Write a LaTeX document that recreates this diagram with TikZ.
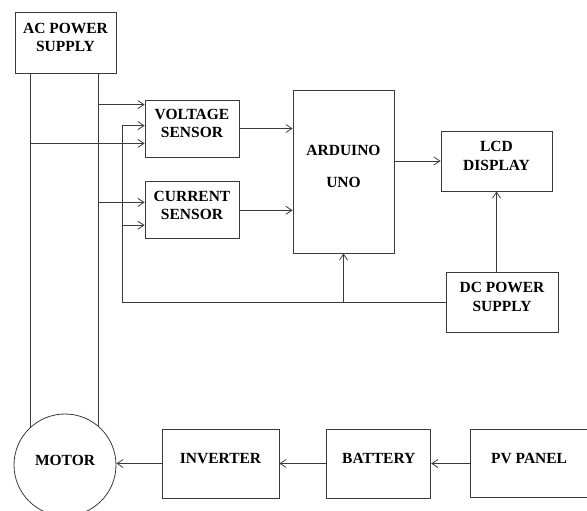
\documentclass[tikz,border=0pt]{standalone}
\usepackage{fontspec}
\setmainfont{Liberation Serif}
\usepackage{tikz}
\usetikzlibrary{positioning,arrows.meta,calc}
\definecolor{lineGray}{HTML}{3A3A3A}
\tikzset{
  blk/.style={draw=lineGray,line width=0.8pt,inner sep=2pt,align=center,
    font=\bfseries\fontsize{15.5}{18.5}\selectfont,text depth=10pt},
  motorc/.style={circle,draw=lineGray,line width=0.8pt,minimum size=102pt,inner sep=0pt,
    font=\bfseries\fontsize{15.5}{18.5}\selectfont,text depth=10pt},
  wire/.style={line width=0.8pt,draw=lineGray},
  arr/.style={wire,-{Straight Barb[length=6pt,width=8pt]}}
}
\begin{document}
\begin{tikzpicture}[x=1pt,y=-1pt,node distance=24pt]
  \useasboundingbox (0,0) rectangle (587,511);
  \node[blk, minimum width=101pt, minimum height=61pt] (ac) at (65.5,42.5) {AC POWER\\SUPPLY};
  \node[blk, minimum width=94pt, minimum height=57pt] (volt) at (192,128.5) {VOLTAGE\\SENSOR};
  \node[blk, minimum width=94pt, minimum height=57pt, below=24pt of volt] (curr) {CURRENT\\SENSOR};
  \node[blk, minimum width=101pt, minimum height=163pt] (ard) at (343.5,171.5) {ARDUINO\\[13pt]UNO};
  \node[blk, minimum width=111pt, minimum height=60pt] (lcd) at (496.5,161) {LCD\\DISPLAY};
  \node[blk, minimum width=112pt, minimum height=60pt] (dc) at (502,302) {DC POWER\\SUPPLY};
  \node[motorc] (motor) at (65,465) {MOTOR};
  \node[blk, minimum width=117pt, minimum height=69pt] (inv) at (220.5,463.5) {INVERTER};
  \node[blk, minimum width=104pt, minimum height=69pt, right=47pt of inv] (bat) {BATTERY};
  \node[blk, minimum width=117pt, minimum height=68pt, right=39pt of bat] (pv) {PV PANEL};
  \coordinate (v1) at ([yshift=-5pt]volt.north west);
  \coordinate (v2) at ([yshift=-26pt]volt.north west);
  \coordinate (v3) at ([yshift=14pt]volt.south west);
  \coordinate (c1) at ([yshift=-21pt]curr.north west);
  \coordinate (c2) at ([yshift=14pt]curr.south west);
  \coordinate (rail) at ([xshift=-22pt]v2);
  \draw[wire] (motor.133) -- (motor.133 |- ac.south);
  \draw[wire] (motor.50) -- (motor.50 |- ac.south);
  \draw[arr] (motor.50 |- v1) -- (v1);
  \draw[arr] (motor.133 |- v3) -- (v3);
  \draw[arr] (motor.50 |- c1) -- (c1);
  \draw[arr] (dc.west) -| (rail) -- (v2);
  \draw[arr] (rail |- c2) -- (c2);
  \draw[arr] (ard.south |- dc.west) -- (ard.south);
  \draw[arr] (volt.east) -- (volt.east -| ard.west);
  \draw[arr] (curr.east) -- (curr.east -| ard.west);
  \draw[arr] (ard.east |- lcd.west) -- (lcd.west);
  \draw[arr] (dc.north -| lcd.south) -- (lcd.south);
  \draw[arr] (inv.west) -- (inv.west -| motor.east);
  \draw[arr] (bat.west) -- (inv.east);
  \draw[arr] (pv.west |- bat.east) -- (bat.east);
\end{tikzpicture}
\end{document}
